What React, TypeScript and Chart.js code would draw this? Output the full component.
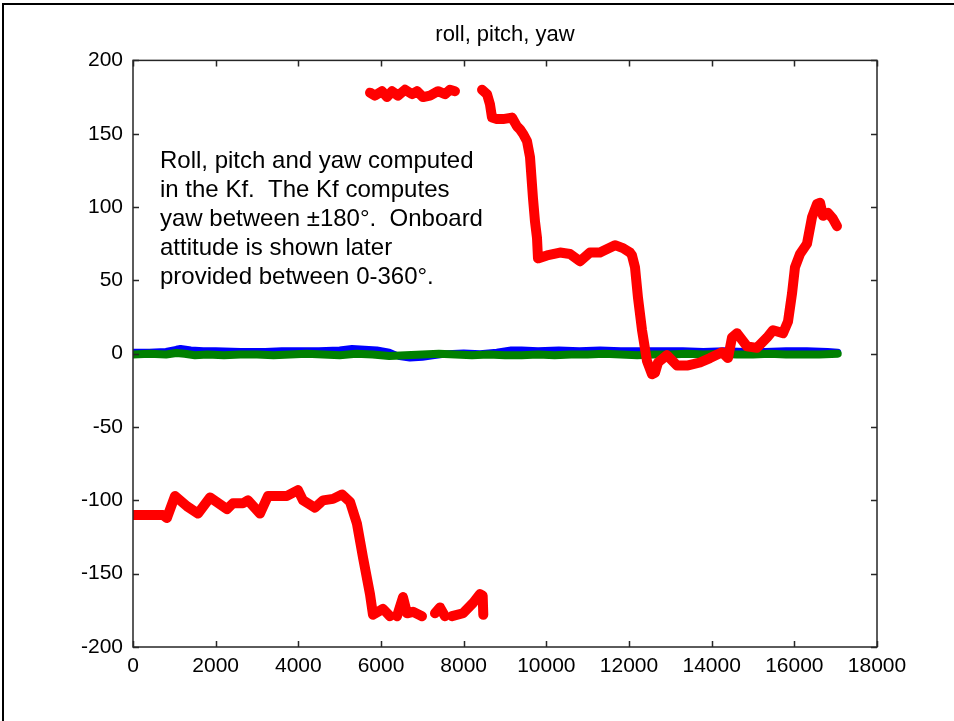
import React, { useEffect, useRef } from "react";
import { Chart, registerables } from "chart.js";

Chart.register(...registerables);

// Axis ticks
const xTickValues = [0, 2000, 4000, 6000, 8000, 10000, 12000, 14000, 16000, 18000];
const yTickValues = [-200, -150, -100, -50, 0, 50, 100, 150, 200];

// Yaw (deg), split where the angle wraps across +/-180
const yawStartX = [0, 726, 820, 1016, 1306, 1573, 1863, 2274, 2419, 2661, 2782, 3073, 3266, 3726, 3992, 4113, 4403, 4597, 4839, 5056, 5250, 5419, 5565, 5734, 5806, 6048, 6218];
const yawStartY = [-110, -110, -112, -97, -104, -109, -98, -106, -102, -102, -100, -109, -97, -97, -93, -100, -105, -100, -99, -96, -101, -116, -139, -164, -178, -174, -179];

const yawLowBX = [6387, 6532, 6629, 6774, 6992];
const yawLowBY = [-179, -166, -177, -176, -179];

const yawLowCX = [7306, 7427, 7548];
const yawLowCY = [-177, -173, -179];

const yawLowDX = [7718, 7984, 8226, 8395, 8460, 8475];
const yawLowDY = [-179, -177, -170, -164, -165, -178];

const yawHighX = [5734, 5855, 6024, 6145, 6266, 6411, 6581, 6750, 6871, 7016, 7185, 7379, 7548, 7669, 7790];
const yawHighY = [178, 176, 179, 175, 179, 176, 180, 177, 179, 175, 176, 179, 177, 180, 179];

const yawMainX = [8444, 8565, 8637, 8685, 8800, 8952, 9169, 9290, 9363, 9435, 9532, 9605, 9677, 9726, 9774, 9798, 10016, 10331, 10573, 10815, 11056, 11298, 11371, 11661, 11855, 12024, 12073, 12145, 12218, 12315, 12435, 12556, 12629, 12702, 12919, 13161, 13427, 13718, 13960, 14250, 14395, 14492, 14613, 14855, 15097, 15339, 15484, 15726, 15847, 15944, 16016, 16137, 16306, 16427, 16548, 16621, 16694, 16815, 16935, 17032];
const yawMainY = [180, 177, 170, 161, 160, 160, 161, 155, 153, 150, 145, 134, 106, 90, 79, 65, 67, 69, 68, 63, 69, 69, 70, 74, 72, 69, 67, 59, 38, 16, -5, -14, -13, -6, -1, -8, -8, -6, -3, 1, -3, 11, 14, 5, 4, 11, 16, 14, 22, 41, 59, 68, 75, 93, 102, 103, 94, 96, 92, 87];

// Roll (deg)
const rollX = [0, 400, 800, 1050, 1150, 1400, 1700, 2000, 2600, 3200, 3600, 4000, 4500, 5000, 5300, 5600, 5900, 6200, 6450, 6700, 7000, 7250, 7600, 8000, 8400, 8800, 9150, 9400, 9800, 10300, 10800, 11300, 11800, 12300, 12800, 13300, 13800, 14300, 14800, 15300, 15800, 16300, 16800, 17050];
const rollY = [1, 1, 1.5, 3, 3.5, 2.5, 2, 2, 1.5, 1.5, 2, 2, 2, 2.5, 3.5, 3, 2.5, 1, -2, -3, -2.5, -1.5, 0, 0.5, 0, 1, 2.5, 2.5, 2, 2.5, 2, 2.5, 2, 2, 2, 2, 1.5, 2, 1.5, 1.5, 2, 2, 1.5, 1];

// Pitch (deg)
const pitchX = [0, 400, 800, 1050, 1250, 1500, 1800, 2200, 2600, 3000, 3400, 3800, 4200, 4600, 5000, 5400, 5800, 6200, 6600, 7000, 7400, 7800, 8200, 8600, 9000, 9400, 9800, 10200, 10600, 11000, 11400, 11800, 12200, 12600, 13000, 13400, 13800, 14200, 14600, 15000, 15400, 15800, 16200, 16600, 17050];
const pitchY = [-0.5, 0, -0.5, 0.5, 0, -1, -0.5, -1, -0.5, -0.5, -1, -0.5, 0, -0.5, -1, 0, -0.5, -1.5, -1, -0.5, 0, -0.5, -1, -0.5, -1, -1, -0.5, -1, -0.5, -0.5, 0, -0.5, -1, -0.5, -0.5, 0, -0.5, 0, -0.5, -0.5, 0, -0.5, -0.5, -0.5, 0];

const noteLines = [
  "Roll, pitch and yaw computed",
  "in the Kf.  The Kf computes",
  "yaw between \u00b1180\u00b0.  Onboard",
  "attitude is shown later",
  "provided between 0-360\u00b0.",
];

const RED = "#ff0000";
const BLUE = "#0000ff";
const GREEN = "#008000";
const AXIS = "#262626";
const FONT = "'Liberation Sans', Arial, Helvetica, sans-serif";

function toPoints(xs: number[], ys: number[]) {
  return xs.map((x, i) => ({ x, y: ys[i] }));
}

const figurePlugin = {
  id: "figureFrame",
  beforeDraw(chart: any) {
    const ctx = chart.ctx;
    ctx.save();
    ctx.fillStyle = "#ffffff";
    ctx.fillRect(0, 0, chart.width, chart.height);
    ctx.fillStyle = "#000000";
    ctx.fillRect(2, 3, chart.width - 2, 2);
    ctx.fillRect(2, 3, 2, chart.height - 3);
    ctx.restore();
  },
  afterDraw(chart: any) {
    const ctx = chart.ctx;
    const { left, right, top, bottom } = chart.chartArea;
    const xs = chart.scales.x;
    const ys = chart.scales.y;
    const tl = 6;
    ctx.save();
    ctx.strokeStyle = AXIS;
    ctx.lineWidth = 1.5;
    ctx.strokeRect(left, top, right - left, bottom - top);
    ctx.beginPath();
    xTickValues.forEach((v) => {
      const px = Math.round(xs.getPixelForValue(v)) + 0.5;
      ctx.moveTo(px, bottom);
      ctx.lineTo(px, bottom - tl);
      ctx.moveTo(px, top);
      ctx.lineTo(px, top + tl);
    });
    yTickValues.forEach((v) => {
      const py = Math.round(ys.getPixelForValue(v)) + 0.5;
      ctx.moveTo(left, py);
      ctx.lineTo(left + tl, py);
      ctx.moveTo(right, py);
      ctx.lineTo(right - tl, py);
    });
    ctx.stroke();

    ctx.fillStyle = "#000000";
    ctx.font = `24px ${FONT}`;
    ctx.textAlign = "left";
    ctx.textBaseline = "alphabetic";
    noteLines.forEach((line, i) => {
      ctx.fillText(line, 160, 168 + i * 29);
    });
    ctx.restore();
  },
};

export default function App() {
  const canvasRef = useRef<HTMLCanvasElement | null>(null);

  useEffect(() => {
    const canvas = canvasRef.current;
    if (!canvas) return;

    const yawStyle = {
      borderColor: RED,
      backgroundColor: RED,
      borderWidth: 10,
      borderJoinStyle: "round" as const,
      borderCapStyle: "round" as const,
      pointRadius: 0,
      fill: false,
      tension: 0,
    };

    const chart = new Chart(canvas, {
      type: "line",
      data: {
        datasets: [
          { label: "yaw", data: toPoints(yawStartX, yawStartY), ...yawStyle },
          { label: "yaw", data: toPoints(yawLowBX, yawLowBY), ...yawStyle },
          { label: "yaw", data: toPoints(yawLowCX, yawLowCY), ...yawStyle },
          { label: "yaw", data: toPoints(yawLowDX, yawLowDY), ...yawStyle },
          { label: "yaw", data: toPoints(yawHighX, yawHighY), ...yawStyle },
          { label: "yaw", data: toPoints(yawMainX, yawMainY), ...yawStyle },
          {
            label: "pitch",
            data: toPoints(pitchX, pitchY),
            borderColor: GREEN,
            backgroundColor: GREEN,
            borderWidth: 8,
            borderJoinStyle: "round",
            borderCapStyle: "round",
            pointRadius: 0,
            fill: false,
          },
          {
            label: "roll",
            data: toPoints(rollX, rollY),
            borderColor: BLUE,
            backgroundColor: BLUE,
            borderWidth: 7,
            borderJoinStyle: "round",
            borderCapStyle: "round",
            pointRadius: 0,
            fill: false,
          },
        ],
      },
      options: {
        responsive: false,
        animation: false,
        events: [],
        layout: { padding: { left: 0, right: 77, top: 0, bottom: 0 } },
        plugins: {
          legend: { display: false },
          tooltip: { enabled: false },
          title: {
            display: true,
            fullSize: false,
            text: "roll, pitch, yaw",
            color: "#000000",
            font: { family: FONT, size: 22, weight: "normal" },
            padding: { top: 22, bottom: 12 },
          },
        },
        scales: {
          x: {
            type: "linear",
            min: 0,
            max: 18000,
            afterBuildTicks: (scale: any) => {
              scale.ticks = xTickValues.map((v) => ({ value: v }));
            },
            afterFit: (scale: any) => {
              scale.height = 74;
            },
            grid: { display: false, drawTicks: false },
            border: { display: false },
            ticks: {
              color: "#000000",
              font: { family: FONT, size: 21 },
              padding: 7,
              maxRotation: 0,
              autoSkip: false,
              callback: (v: any) => String(v),
            },
          },
          y: {
            type: "linear",
            min: -200,
            max: 200,
            afterBuildTicks: (scale: any) => {
              scale.ticks = yTickValues.map((v) => ({ value: v }));
            },
            afterFit: (scale: any) => {
              scale.width = 133;
            },
            grid: { display: false, drawTicks: false },
            border: { display: false },
            ticks: {
              color: "#000000",
              font: { family: FONT, size: 21 },
              padding: 10,
              autoSkip: false,
              callback: (v: any) => String(v),
            },
          },
        },
      },
      plugins: [figurePlugin],
    });

    return () => {
      chart.destroy();
    };
  }, []);

  return (
    <div
      style={{
        position: "fixed",
        left: 0,
        top: 0,
        width: 954,
        height: 721,
        background: "#ffffff",
      }}
    >
      <canvas ref={canvasRef} width={954} height={721} style={{ display: "block" }} />
    </div>
  );
}
